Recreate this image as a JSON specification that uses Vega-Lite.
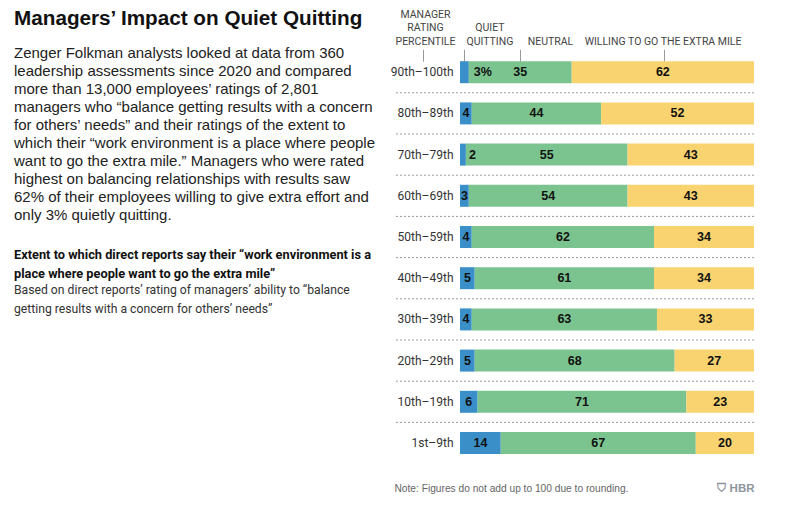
{
  "$schema": "https://vega.github.io/schema/vega-lite/v6.json",
  "background": "white",
  "padding": {"left": 14, "top": 8, "right": 5, "bottom": 5},
  "config": {"view": {"stroke": null}, "font": "Liberation Sans"},
  "spacing": 4,
  "hconcat": [
    {
      "spacing": 25,
      "vconcat": [
        {
          "width": 372,
          "height": 1,
          "data": {"values": []},
          "mark": "text",
          "title": {
            "text": "Managers’ Impact on Quiet Quitting",
            "subtitle": [
              "Zenger Folkman analysts looked at data from 360",
              "leadership assessments since 2020 and compared",
              "more than 13,000 employees’ ratings of 2,801",
              "managers who “balance getting results with a concern",
              "for others’ needs” and their ratings of the extent to",
              "which their “work environment is a place where people",
              "want to go the extra mile.” Managers who were rated",
              "highest on balancing relationships with results saw",
              "62% of their employees willing to give extra effort and",
              "only 3% quietly quitting."
            ],
            "orient": "bottom",
            "anchor": "start",
            "frame": "group",
            "font": "Liberation Sans",
            "fontSize": 20.7,
            "fontWeight": "bold",
            "color": "#111111",
            "subtitleFont": "Liberation Sans",
            "subtitleFontSize": 15,
            "subtitleLineHeight": 18,
            "subtitleColor": "#222222",
            "subtitlePadding": 16,
            "offset": 0
          }
        },
        {
          "width": 372,
          "height": 1,
          "data": {"values": []},
          "mark": "text",
          "title": {
            "text": [
              "Extent to which direct reports say their “work environment is a",
              "place where people want to go the extra mile”"
            ],
            "subtitle": [
              "Based on direct reports’ rating of managers’ ability to “balance",
              "getting results with a concern for others’ needs”"
            ],
            "orient": "bottom",
            "anchor": "start",
            "frame": "group",
            "font": "Roboto",
            "fontSize": 12.8,
            "fontWeight": "bold",
            "lineHeight": 19,
            "color": "#111111",
            "subtitleFont": "Roboto",
            "subtitleFontSize": 12.2,
            "subtitleLineHeight": 19,
            "subtitleColor": "#333333",
            "subtitlePadding": 3,
            "offset": 0
          }
        }
      ]
    },
    {
      "width": 360,
      "height": 446,
      "data": {
        "values": [
          {"rating": "90th–100th", "category": "Quiet quitting", "rank": 1, "value": 3},
          {"rating": "90th–100th", "category": "Neutral", "rank": 2, "value": 35},
          {"rating": "90th–100th", "category": "Willing to go the extra mile", "rank": 3, "value": 62},
          {"rating": "80th–89th", "category": "Quiet quitting", "rank": 1, "value": 4},
          {"rating": "80th–89th", "category": "Neutral", "rank": 2, "value": 44},
          {"rating": "80th–89th", "category": "Willing to go the extra mile", "rank": 3, "value": 52},
          {"rating": "70th–79th", "category": "Quiet quitting", "rank": 1, "value": 2},
          {"rating": "70th–79th", "category": "Neutral", "rank": 2, "value": 55},
          {"rating": "70th–79th", "category": "Willing to go the extra mile", "rank": 3, "value": 43},
          {"rating": "60th–69th", "category": "Quiet quitting", "rank": 1, "value": 3},
          {"rating": "60th–69th", "category": "Neutral", "rank": 2, "value": 54},
          {"rating": "60th–69th", "category": "Willing to go the extra mile", "rank": 3, "value": 43},
          {"rating": "50th–59th", "category": "Quiet quitting", "rank": 1, "value": 4},
          {"rating": "50th–59th", "category": "Neutral", "rank": 2, "value": 62},
          {"rating": "50th–59th", "category": "Willing to go the extra mile", "rank": 3, "value": 34},
          {"rating": "40th–49th", "category": "Quiet quitting", "rank": 1, "value": 5},
          {"rating": "40th–49th", "category": "Neutral", "rank": 2, "value": 61},
          {"rating": "40th–49th", "category": "Willing to go the extra mile", "rank": 3, "value": 34},
          {"rating": "30th–39th", "category": "Quiet quitting", "rank": 1, "value": 4},
          {"rating": "30th–39th", "category": "Neutral", "rank": 2, "value": 63},
          {"rating": "30th–39th", "category": "Willing to go the extra mile", "rank": 3, "value": 33},
          {"rating": "20th–29th", "category": "Quiet quitting", "rank": 1, "value": 5},
          {"rating": "20th–29th", "category": "Neutral", "rank": 2, "value": 68},
          {"rating": "20th–29th", "category": "Willing to go the extra mile", "rank": 3, "value": 27},
          {"rating": "10th–19th", "category": "Quiet quitting", "rank": 1, "value": 6},
          {"rating": "10th–19th", "category": "Neutral", "rank": 2, "value": 71},
          {"rating": "10th–19th", "category": "Willing to go the extra mile", "rank": 3, "value": 23},
          {"rating": "1st–9th", "category": "Quiet quitting", "rank": 1, "value": 14},
          {"rating": "1st–9th", "category": "Neutral", "rank": 2, "value": 67},
          {"rating": "1st–9th", "category": "Willing to go the extra mile", "rank": 3, "value": 20}
        ]
      },
      "resolve": {"axis": {"x": "independent", "y": "independent"}},
      "layer": [
        {
          "transform": [{"filter": "datum.rating !== '1st–9th' && datum.category === 'Neutral'"}],
          "mark": {"type": "rule", "color": "#9a9a9a", "strokeDash": [2, 2], "strokeWidth": 1},
          "encoding": {
            "y": {
              "field": "rating",
              "type": "nominal",
              "bandPosition": 1.436,
              "sort": ["90th–100th", "80th–89th", "70th–79th", "60th–69th", "50th–59th", "40th–49th", "30th–39th", "20th–29th", "10th–19th", "1st–9th"],
              "axis": null
            }
          }
        },
        {
          "mark": {"type": "bar"},
          "encoding": {
            "x": {
              "field": "value",
              "type": "quantitative",
              "stack": "normalize",
              "scale": {"domain": [-0.2245, 1], "nice": false, "zero": false},
              "axis": {
                "orient": "top",
                "offset": -53.2,
                "values": [-0.127, 0.015, 0.204, 0.694],
                "labelExpr": "datum.value < 0 ? '' : datum.value < 0.1 ? ['QUIET', 'QUITTING'] : datum.value < 0.5 ? 'NEUTRAL' : 'WILLING TO GO THE EXTRA MILE'",
                "title": ["MANAGER", "RATING", "PERCENTILE"],
                "titleX": 31,
                "titleY": -42.2,
                "titleAngle": 0,
                "titleAlign": "center",
                "titleAnchor": null,
                "titleBaseline": "bottom",
                "titleFont": "Roboto",
                "titleFontSize": 10.5,
                "titleFontWeight": "normal",
                "titleColor": "#444444",
                "titleLineHeight": 13.5,
                "domain": false,
                "grid": false,
                "ticks": true,
                "tickSize": 12,
                "tickColor": "#9a9a9a",
                "tickWidth": 1,
                "labelPadding": {"condition": {"test": "datum.value > 0 && datum.value < 0.1", "value": 16.5}, "value": 3},
                "labelFont": "Roboto",
                "labelFontSize": 10.5,
                "labelColor": "#444444",
                "labelLineHeight": 13.5,
                "labelOverlap": false,
                "labelFlush": false,
                "labelBound": false,
                "labelLimit": 0,
                "labelAlign": "center",
                "labelBaseline": "bottom",
                "labelOffset": {
                  "condition": [
                    {"test": "datum.value < 0", "value": 0},
                    {"test": "datum.value < 0.1", "value": 25},
                    {"test": "datum.value < 0.5", "value": 30}
                  ],
                  "value": -1.5
                }
              }
            },
            "y": {
              "field": "rating",
              "type": "nominal",
              "sort": ["90th–100th", "80th–89th", "70th–79th", "60th–69th", "50th–59th", "40th–49th", "30th–39th", "20th–29th", "10th–19th", "1st–9th"],
              "scale": {"paddingInner": 0.466, "paddingOuter": 0.6456, "align": 1},
              "axis": {
                "title": null,
                "domain": false,
                "ticks": false,
                "grid": false,
                "labelPadding": -59,
                "labelFont": "Roboto",
                "labelFontSize": 12,
                "labelColor": "#333333",
                "labelAlign": "right",
                "labelBaseline": "middle"
              }
            },
            "color": {
              "field": "category",
              "type": "nominal",
              "scale": {
                "domain": ["Quiet quitting", "Neutral", "Willing to go the extra mile"],
                "range": ["#3a8fc9", "#7cc48f", "#f8d36f"]
              },
              "legend": null
            },
            "order": {"field": "rank", "type": "quantitative"}
          }
        },
        {
          "mark": {"type": "text", "font": "Liberation Sans", "fontSize": 12.5, "fontWeight": "bold", "color": "#111111", "baseline": "middle", "align": "center"},
          "encoding": {
            "x": {
              "field": "value",
              "type": "quantitative",
              "stack": "normalize",
              "bandPosition": 0.5,
              "axis": {
                "orient": "bottom",
                "domain": false,
                "ticks": false,
                "labels": false,
                "grid": false,
                "title": "Note: Figures do not add up to 100 due to rounding.",
                "titleX": 0,
                "titleY": 34,
                "titleAlign": "left",
                "titleAnchor": "start",
                "titleBaseline": "middle",
                "titleFont": "Liberation Sans",
                "titleFontSize": 10.2,
                "titleFontWeight": "normal",
                "titleColor": "#666666"
              }
            },
            "y": {
              "field": "rating",
              "type": "nominal",
              "sort": ["90th–100th", "80th–89th", "70th–79th", "60th–69th", "50th–59th", "40th–49th", "30th–39th", "20th–29th", "10th–19th", "1st–9th"],
              "axis": {
                "orient": "right",
                "domain": false,
                "ticks": false,
                "labels": false,
                "grid": false,
                "title": "⛉ HBR",
                "titleAngle": 0,
                "titleX": 0,
                "titleY": 480,
                "titleAlign": "right",
                "titleBaseline": "middle",
                "titleFont": "Liberation Sans",
                "titleFontSize": 11.5,
                "titleFontWeight": "bold",
                "titleColor": "#8c949c"
              }
            },
            "detail": {"field": "category"},
            "order": {"field": "rank", "type": "quantitative"},
            "text": {
              "condition": {"test": "datum.category === 'Quiet quitting' && (datum.rating === '90th–100th' || datum.rating === '70th–79th')", "value": ""},
              "field": "value",
              "type": "quantitative"
            }
          }
        },
        {
          "mark": {"type": "text", "font": "Liberation Sans", "fontSize": 12.5, "fontWeight": "bold", "color": "#111111", "baseline": "middle", "align": "left", "dx": 3},
          "encoding": {
            "x": {"field": "value", "type": "quantitative", "stack": "normalize", "axis": null},
            "y": {
              "field": "rating",
              "type": "nominal",
              "sort": ["90th–100th", "80th–89th", "70th–79th", "60th–69th", "50th–59th", "40th–49th", "30th–39th", "20th–29th", "10th–19th", "1st–9th"],
              "axis": null
            },
            "detail": {"field": "category"},
            "order": {"field": "rank", "type": "quantitative"},
            "text": {
              "condition": {"test": "datum.category === 'Quiet quitting' && datum.rating === '70th–79th'", "field": "value", "type": "quantitative"},
              "value": ""
            }
          }
        },
        {
          "transform": [{"calculate": "datum.value + '%'", "as": "pctLabel"}],
          "mark": {"type": "text", "font": "Liberation Sans", "fontSize": 12.5, "fontWeight": "bold", "color": "#111111", "baseline": "middle", "align": "left", "dx": 5},
          "encoding": {
            "x": {"field": "value", "type": "quantitative", "stack": "normalize", "axis": null},
            "y": {
              "field": "rating",
              "type": "nominal",
              "sort": ["90th–100th", "80th–89th", "70th–79th", "60th–69th", "50th–59th", "40th–49th", "30th–39th", "20th–29th", "10th–19th", "1st–9th"],
              "axis": null
            },
            "detail": {"field": "category"},
            "order": {"field": "rank", "type": "quantitative"},
            "text": {
              "condition": {"test": "datum.category === 'Quiet quitting' && datum.rating === '90th–100th'", "field": "pctLabel", "type": "nominal"},
              "value": ""
            }
          }
        }
      ]
    }
  ]
}
